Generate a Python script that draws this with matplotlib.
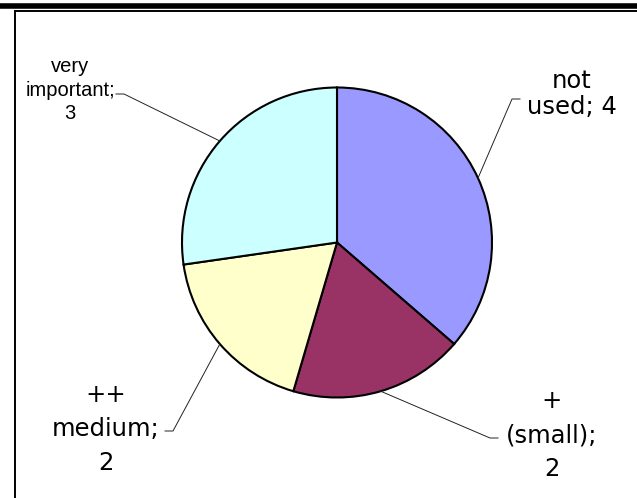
import numpy as np
import matplotlib
matplotlib.use("Agg")
import matplotlib.pyplot as plt

# data
labels = ["not\nused; 4", "+\n(small);\n2", "++\nmedium;\n2", "very\nimportant;\n3"]
values = [4, 2, 2, 3]
colors = ["#9999FF", "#993366", "#FFFFCC", "#CCFFFF"]

# layout (pixels, y measured from top)
W, H = 637, 498
center_px = (337, 242.5)
radius_px = 155
# label centre, line spacing, font size, font, elbow, tick end
label_pos = [(572, 94), (552, 435), (106, 429), (70, 90)]
label_spacing = [1.15, 1.55, 1.55, 1.3]
label_size = [17.5, 17.5, 17.5, 14.5]
label_font = ['DejaVu Sans', 'DejaVu Sans', 'DejaVu Sans', 'Liberation Sans']
elbows = [(512, 99), (490, 438), (173, 431), (124, 94)]
ticks = [(520, 99), (498, 438), (165, 431), (116, 94)]

plt.rcParams['font.family'] = ['Liberation Sans', 'DejaVu Sans']

fig = plt.figure(figsize=(W / 100, H / 100), dpi=100)
ax = fig.add_axes([0, 0, 1, 1])


def up(y):
    return H - y


cx, cy = center_px[0], up(center_px[1])
wedges, _ = ax.pie(values, colors=colors, startangle=90, counterclock=False,
                   center=(cx, cy), radius=radius_px,
                   wedgeprops=dict(edgecolor="black", linewidth=1.5))
ax.set_xlim(0, W)
ax.set_ylim(0, H)
ax.set_aspect('equal')
ax.axis('off')

for i, w in enumerate(wedges):
    mid = np.deg2rad((w.theta1 + w.theta2) / 2)
    sx = cx + radius_px * np.cos(mid)
    sy = cy + radius_px * np.sin(mid)
    ex, ey = elbows[i]
    tx, ty = ticks[i]
    ax.plot([sx, ex, tx], [sy, up(ey), up(ty)], color="#222222", lw=0.7)
    ax.text(label_pos[i][0], up(label_pos[i][1]), labels[i], ha="center",
            va="center", multialignment="center", fontsize=label_size[i],
            family=label_font[i], linespacing=label_spacing[i], color="black")

# chart frame with shadow
ax.plot([0, W], [up(6), up(6)], color="black", lw=4.0, solid_capstyle="butt")
ax.plot([14, W], [up(11), up(11)], color="black", lw=1.4, solid_capstyle="butt")
ax.plot([15, 15], [up(11), 0], color="black", lw=1.4, solid_capstyle="butt")

fig.savefig("out.png", dpi=100)
